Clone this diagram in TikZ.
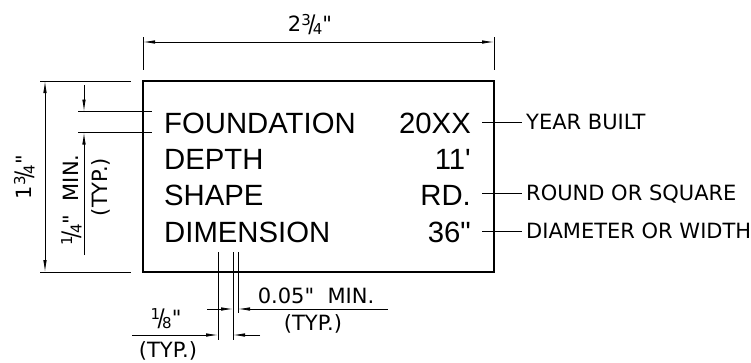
\documentclass[tikz,border=0pt]{standalone}
\usepackage{fontspec}
\usepackage{tikz}
\usetikzlibrary{arrows.meta}

\newfontfamily\boxfont{Liberation Sans}
\newfontfamily\cadfont{DejaVu Sans}
% stacked CAD fraction
\newcommand{\cadfr}[2]{\raisebox{6.5pt}{\fontsize{15}{15}\selectfont#1}\kern-2.5pt\raisebox{-.5pt}{\scalebox{1}[1.15]{/}}\kern-2.5pt\raisebox{-3pt}{\fontsize{15}{15}\selectfont#2}}

\tikzset{
  thinline/.style={line width=.8pt},
  dimarrow/.style={thinline, -{Latex[length=12pt,width=3.5pt]}},
  dimboth/.style={thinline, {Latex[length=12pt,width=3.5pt]}-{Latex[length=12pt,width=3.5pt]}},
  cad/.style={font=\cadfont\fontsize{21}{21}\selectfont, inner sep=0pt, text height=15.3pt, text depth=0pt},
  big/.style={font=\boxfont\fontsize{29.3}{30}\selectfont, inner sep=0pt},
}

\begin{document}
\begin{tikzpicture}
  [x=1pt,y=-1pt]
  \useasboundingbox (0,0) rectangle (751,362);

  % plate
  \coordinate (tl) at (143,81);
  \coordinate (br) at (494,272);
  \draw[line width=2pt] (tl) rectangle (br);

  \node[big, anchor=base west] (found) at (164,133) {FOUNDATION};
  \node[big, anchor=base west] (depth) at (164,169) {DEPTH};
  \node[big, anchor=base west] (shape) at (164,205) {SHAPE};
  \node[big, anchor=base west] (dimen) at (164,242) {DIMENSION};
  \node[big, anchor=base east] (yr) at (471,133) {20XX};
  \node[big, anchor=base east] (dp) at (471,169) {11'};
  \node[big, anchor=base east] (rd) at (471,205) {RD.};
  \node[big, anchor=base east] (dia) at (471,242) {36"};

  % leaders
  \node[cad, anchor=west] (yrtxt) at (526,122) {YEAR BUILT};
  \node[cad, anchor=west] (rdtxt) at (526,193) {ROUND OR SQUARE};
  \node[cad, anchor=west] (diatxt) at (526,231) {DIAMETER OR WIDTH};
  \coordinate (yrl) at (482,122);
  \coordinate (rdl) at (482,193);
  \coordinate (dial) at (482,231);
  \foreach \from/\to in {yrl/yrtxt,rdl/rdtxt,dial/diatxt}
  \draw[thinline, shorten >=4pt] (\from) -- (\to.west);

  % overall width
  \draw[thinline] (143,37) -- (143,70) (494,37) -- (494,70);
  \coordinate (w1) at (143,42);
  \coordinate (w2) at (494,42);
  \draw[dimboth] (w1) -- (w2);
  \node[cad] (wd) at (310,24) {2\cadfr{3}{4}"};

  % overall height
  \draw[thinline] (40,81) -- (131,81) (40,272) -- (131,272);
  \coordinate (h1) at (45,81);
  \coordinate (h2) at (45,272);
  \draw[dimboth] (h1) -- (h2);
  \node[cad, rotate=90] (ht) at (24,177) {1\cadfr{3}{4}"};

  % letter height
  \draw[thinline] (78,111.5) -- (152,111.5) (78,132.5) -- (152,132.5);
  \coordinate (lh1) at (84,85);
  \coordinate (lh2) at (84,111.5);
  \coordinate (lh3) at (84,255);
  \coordinate (lh4) at (84,132.5);
  \draw[dimarrow] (lh1) -- (lh2);
  \draw[dimarrow] (lh3) -- (lh4);
  \node[cad, rotate=90] (lhmin) at (71,200) {\cadfr{1}{4}"\ \ MIN.};
  \node[cad, rotate=90] (lhtyp) at (100,187) {(TYP.)};

  % letter spacing
  \draw[thinline] (218,252) -- (218,340) (233,252) -- (233,340) (238,252) -- (238,313);
  \coordinate (s1) at (207,309);
  \coordinate (s2) at (233,309);
  \coordinate (s3) at (388,309);
  \coordinate (s4) at (238,309);
  \coordinate (g1) at (132,335);
  \coordinate (g2) at (218,335);
  \coordinate (g3) at (260,335);
  \coordinate (g4) at (233,335);
  \foreach \from/\to in {s1/s2,s3/s4,g1/g2,g3/g4}
  \draw[dimarrow] (\from) -- (\to);
  \node[cad] (smin) at (316,296) {0.05"\ \ MIN.};
  \node[cad] (styp) at (313,323) {(TYP.)};
  \node[cad] (gfr) at (166,318) {\cadfr{1}{8}"};
  \node[cad] (gtyp) at (168,350) {(TYP.)};

\end{tikzpicture}
\end{document}
